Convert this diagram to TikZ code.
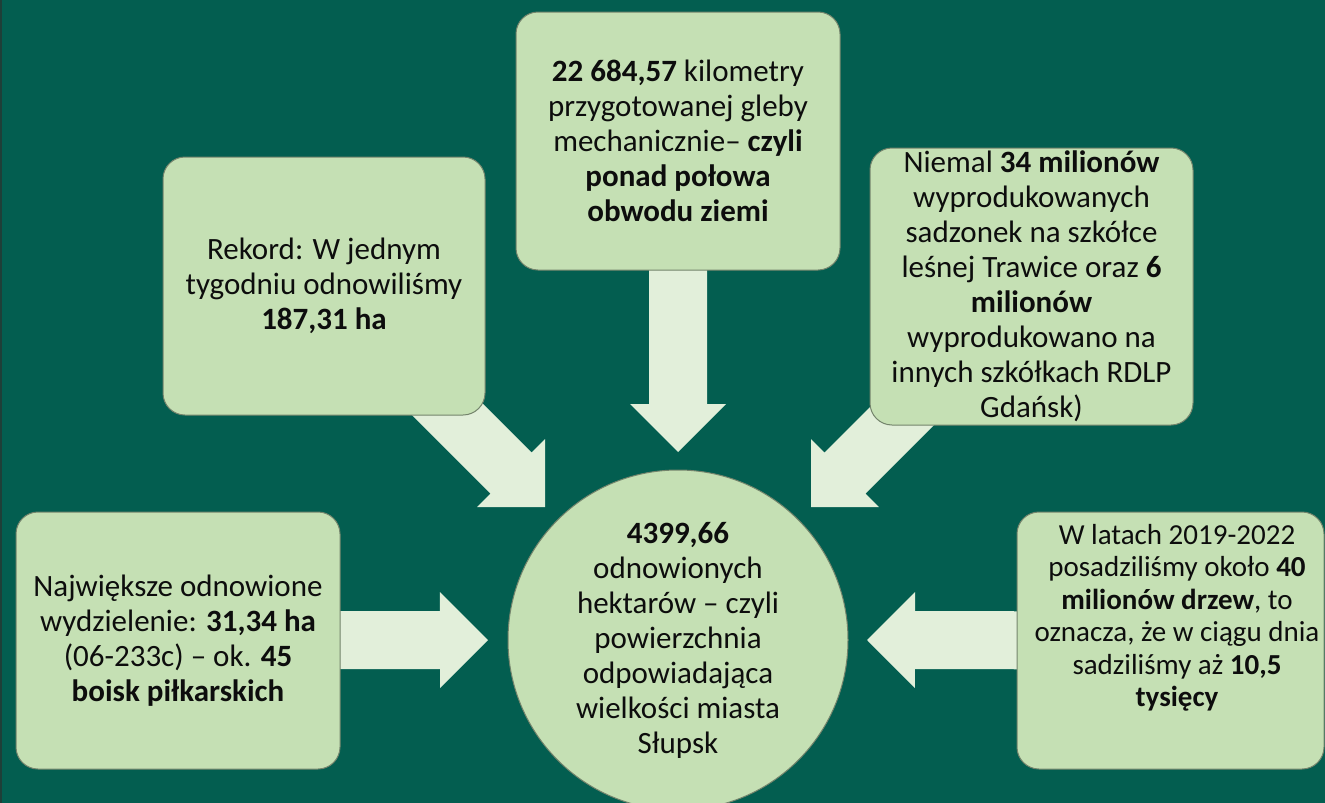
\documentclass[tikz,border=0pt]{standalone}
\usepackage{fontspec}
\setmainfont{Carlito}
\usetikzlibrary{calc}
\definecolor{bg}{HTML}{035E50}
\definecolor{boxfill}{HTML}{C5E0B4}
\definecolor{arrfill}{HTML}{E2EFDA}
\definecolor{boxline}{HTML}{74846C}
\definecolor{txt}{HTML}{0D0D0D}
\definecolor{edgeline}{HTML}{1E3F38}
\newcommand\blockarrow[2]{%
  \coordinate (ba) at ($(#2)!48pt!(#1)$);
  \fill[arrowstyle] ($(#1)!29pt!90:(#2)$) -- ($(ba)!29pt!90:(#2)$) -- ($(ba)!48pt!90:(#2)$) -- (#2)
    -- ($(ba)!48pt!-90:(#2)$) -- ($(ba)!29pt!-90:(#2)$) -- ($(#1)!29pt!-90:(#2)$) -- cycle;}
\tikzset{
  box/.style={draw=boxline, line width=1pt, fill=boxfill, rounded corners=22pt,
    align=center, text=txt, font=\fontsize{31}{35}\selectfont, inner sep=0pt},
  hub/.style={circle, draw=boxline, line width=1pt, fill=boxfill, minimum size=340pt,
    align=center, text=txt, font=\fontsize{31}{35}\selectfont, inner sep=0pt},
  plaintext/.style={align=center, text=txt, font=\fontsize{29}{32.5}\selectfont, inner sep=0pt},
  arrowstyle/.style={fill=arrfill},
}
\begin{document}
\begin{tikzpicture}[x=1pt,y=-1pt]
\useasboundingbox (0,0) rectangle (1325,803);
\fill[bg] (0,0) rectangle (1325,803);
\fill[edgeline] (0,0) rectangle (1.5,803);

% positions
\coordinate (cc) at (678,640);
\coordinate (tipTL) at ($(cc)+(-133,-133)$);
\coordinate (tipTR) at ($(cc)+(133,-133)$);
\coordinate (tipT) at ($(cc)+(0,-188)$);
\coordinate (tipL) at ($(cc)+(-190,0)$);
\coordinate (tipR) at ($(cc)+(189,0)$);
\coordinate (cTop) at (678,141);
\coordinate (cTL) at (324,286);
\coordinate (cTR) at (1031.5,286.5);
\coordinate (cBL) at (178,640.5);
\coordinate (cBR) at (1170.5,640.5);

% arrows (drawn beneath the boxes)
\blockarrow{cTop}{tipT}
\blockarrow{cTL}{tipTL}
\blockarrow{cTR}{tipTR}
\blockarrow{cBL}{tipL}
\blockarrow{cBR}{tipR}

% boxes
\node[box, minimum width=324pt, minimum height=258pt] (top) at (cTop)
  {\textbf{22 684,57} kilometry\\ przygotowanej gleby\\ mechanicznie– \textbf{czyli}\\ \textbf{ponad połowa}\\ \textbf{obwodu ziemi}};
\node[box, minimum width=322pt, minimum height=258pt] (tl) at (cTL)
  {Rekord: W jednym\\ tygodniu odnowiliśmy\\ \textbf{187,31 ha}};
\node[box, minimum width=323pt, minimum height=277pt] (tr) at (cTR)
  {Niemal \textbf{34 milionów}\\ wyprodukowanych\\ sadzonek na szkółce\\ leśnej Trawice oraz \textbf{6}\\ \textbf{milionów}\\ wyprodukowano na\\ innych szkółkach RDLP\\ Gdańsk)};
\node[box, minimum width=324pt, minimum height=257pt] (bl) at (cBL)
  {Największe odnowione\\ wydzielenie: \textbf{31,34 ha}\\ (06-233c) – ok. \textbf{45}\\ \textbf{boisk piłkarskich}};
\node[box, minimum width=307pt, minimum height=257pt] (br) at (cBR) {};
\node[plaintext] (brt) at (1177,618)
  {W latach 2019-2022\\ posadziliśmy około \textbf{40}\\ \textbf{milionów drzew}, to\\ oznacza, że w ciągu dnia\\ sadziliśmy aż \textbf{10,5}\\ \textbf{tysięcy}};
\node[hub] (hub) at (cc)
  {\textbf{4399,66}\\ odnowionych\\ hektarów – czyli\\ powierzchnia\\ odpowiadająca\\ wielkości miasta\\ Słupsk};
\end{tikzpicture}
\end{document}
